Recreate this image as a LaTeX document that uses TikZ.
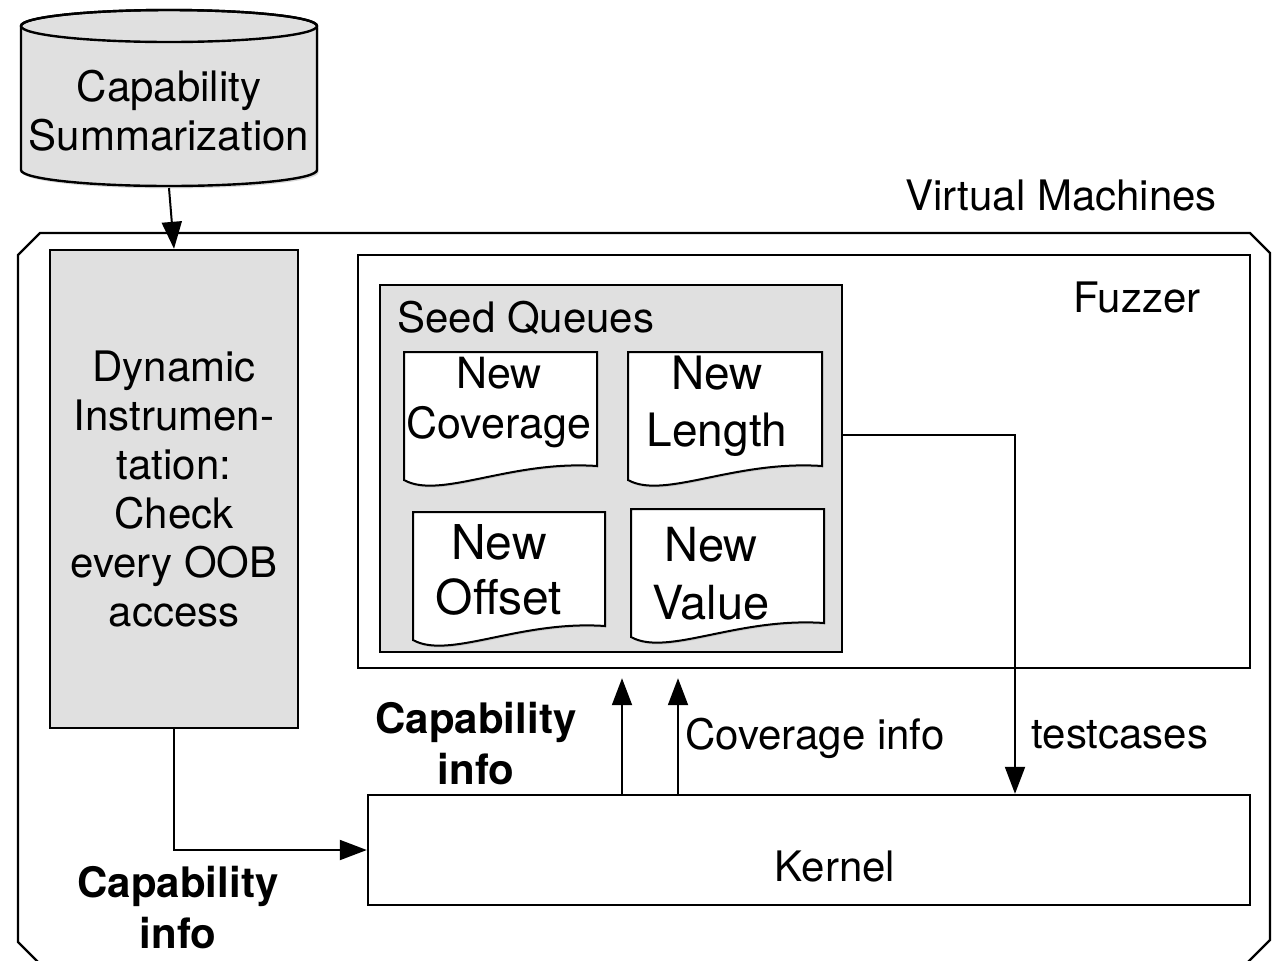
\documentclass[tikz,border=0pt]{standalone}
\usepackage{fontspec}
\setmainfont{TeX Gyre Heros}
\usetikzlibrary{arrows.meta,shadows}
\definecolor{boxgray}{HTML}{E0E0E0}

\begin{document}
\begin{tikzpicture}[x=0.5pt, y=-0.5pt, line join=miter,
    txt/.style={font=\fontsize{21}{24.5}\selectfont, align=center, inner sep=0pt},
    boldtxt/.style={txt, font=\fontsize{21}{25.5}\selectfont\bfseries},
    box/.style={draw, line width=1.2pt, inner sep=0pt},
    graybox/.style={box, fill=boxgray},
    doc/.style={draw, fill=white, line width=1pt,
        drop shadow={opacity=0.25, shadow xshift=0.6pt, shadow yshift=-0.9pt}},
    arr/.style={-{Triangle[length=13.5pt, width=10pt]}, line width=1pt}]
    \useasboundingbox (0,0) rectangle (1278,960);

    % Capability summarization store
    \filldraw[fill=boxgray, line width=1.2pt,
        drop shadow={opacity=0.3, shadow xshift=0.8pt, shadow yshift=-1.2pt}]
        (21,26) -- (21,170) arc[start angle=180, end angle=0, x radius=148, y radius=16]
        -- (317,26) arc[start angle=0, end angle=-180, x radius=148, y radius=16] -- cycle;
    \draw[line width=1.2pt] (169,26) ellipse[x radius=148, y radius=16];
    \node[txt] (cap) at (169,111) {Capability\\Summarization};
    \coordinate (capbot) at (169,188);

    % Virtual machine frame
    \draw[line width=1.2pt] (40,233) -- (1250,233) -- (1270,253) -- (1270,940)
        -- (1246,964) -- (40,964) -- (18,942) -- (18,255) -- cycle;
    \node[txt] (vmlabel) at (1061,195) {Virtual Machines};

    \node[graybox, txt, minimum width=124pt, minimum height=239pt] (dyn) at (174,489)
        {Dynamic\\Instrumen-\\tation:\\Check\\every OOB\\access};

    % Fuzzer with its seed queues
    \node[box, minimum width=446pt, minimum height=206.5pt] (fuzzer) at (804,461.5) {};
    \node[txt] (fuzzlabel) at (1137,297) {Fuzzer};
    \node[graybox, minimum width=231pt, minimum height=183.5pt] (seeds) at (611,468.5) {};
    \node[txt, anchor=west] (seedlabel) at (397,318) {Seed Queues};

    % name/left/top/right/text x/text y/size/line skip/second line
    \foreach \nm/\xa/\ya/\xb/\tx/\ty/\fs/\sk/\word in {cov/404/352/597/499/403/21.5/25/Coverage,
        len/628/352/822/717/406/23/28.5/Length, off/413/512/605/499/570/24/27.5/Offset,
        val/631/509/824/711/574/23.5/29/Value} {
        \path[doc] (\xa,\ya) -- (\xb,\ya) -- (\xb,\ya+114)
            .. controls (\xa+106,\ya+108) and (\xa+36,\ya+148) .. (\xa,\ya+128) -- cycle;
        \node[txt, font=\fontsize{\fs}{\sk}\selectfont] (\nm) at (\tx,\ty) {New\\\word};
    }

    \node[box, minimum width=441pt, minimum height=55pt] (kernel) at (809,850) {};
    \node[txt] (kernlabel) at (835,866) {Kernel};

    % Connectors
    \draw[arr] (capbot) -- (dyn.north);
    \draw[arr] (dyn.south) |- (kernel.west);
    \draw[arr] (kernel.north -| 622,0) -- ([yshift=-4.5pt]fuzzer.south -| 622,0);
    \draw[arr] (kernel.north -| 678,0) -- ([yshift=-4.5pt]fuzzer.south -| 678,0);
    \coordinate (tcout) at (seeds.east |- 0,435);
    \draw[arr] (tcout) -| (kernel.north -| 1015,0);

    \node[boldtxt] (capinfoA) at (178,908) {Capability\\info};
    \node[boldtxt] (capinfoB) at (476,744) {Capability\\info};
    \node[txt] (covinfo) at (815,738) {Coverage info};
    \node[txt] (tclabel) at (1120,735) {testcases};
\end{tikzpicture}
\end{document}
